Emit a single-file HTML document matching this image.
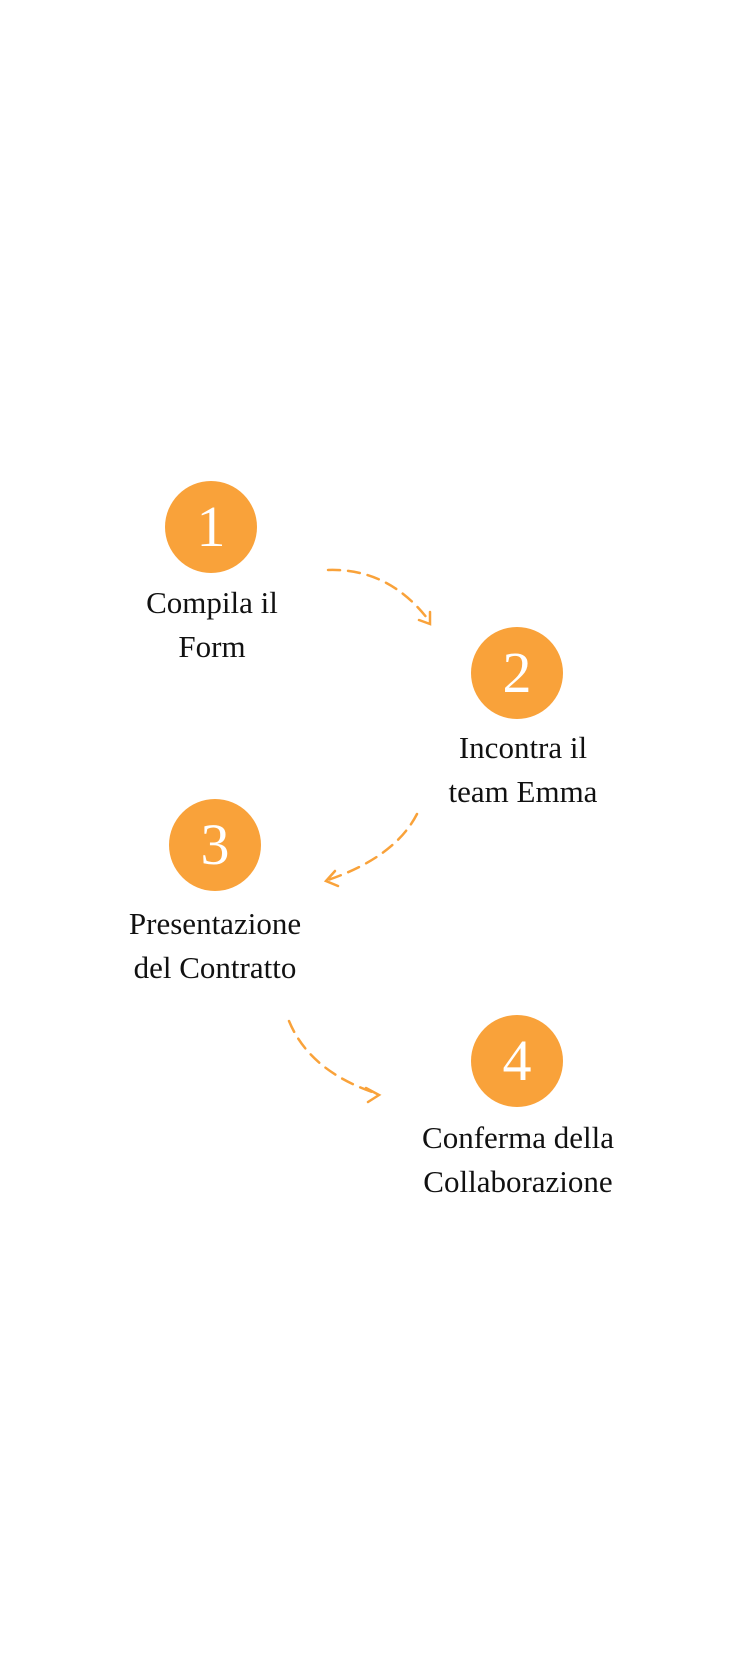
<!DOCTYPE html>
<html><head><meta charset="utf-8"><style>
html,body{margin:0;padding:0;background:#fff;}
body{width:750px;height:1680px;position:relative;overflow:hidden;font-family:"Liberation Serif",serif;}
.c{position:absolute;width:92px;height:92px;border-radius:50%;background:#F9A23A;color:#fff;font-size:58px;line-height:92px;text-align:center;}
.t{position:absolute;width:260px;text-align:center;font-size:31px;line-height:44px;color:#111;}
</style></head><body>
<div class="c" style="left:165px;top:481px;">1</div>
<div class="c" style="left:471px;top:627px;">2</div>
<div class="c" style="left:169px;top:799px;">3</div>
<div class="c" style="left:471px;top:1015px;">4</div>
<div class="t" style="left:82px;top:581px;">Compila il<br>Form</div>
<div class="t" style="left:393px;top:726px;">Incontra il<br>team Emma</div>
<div class="t" style="left:85px;top:902px;">Presentazione<br>del Contratto</div>
<div class="t" style="left:388px;top:1116px;">Conferma della<br>Collaborazione</div>
<svg width="750" height="1680" style="position:absolute;left:0;top:0" fill="none" stroke="#F9A23A" stroke-width="2.5" stroke-linecap="round">
<path d="M328 570 Q390 568 430 622" stroke-dasharray="12 8"/>
<path d="M419 620 L430 624 L430 612"/>
<path d="M417 814 Q395 857 328 880" stroke-dasharray="12 8"/>
<path d="M335 871 L326 881 L338 886"/>
<path d="M289 1021 Q310 1072 378 1094" stroke-dasharray="12 8"/>
<path d="M366 1088 L379 1095 L368 1102"/>
</svg>
</body></html>
